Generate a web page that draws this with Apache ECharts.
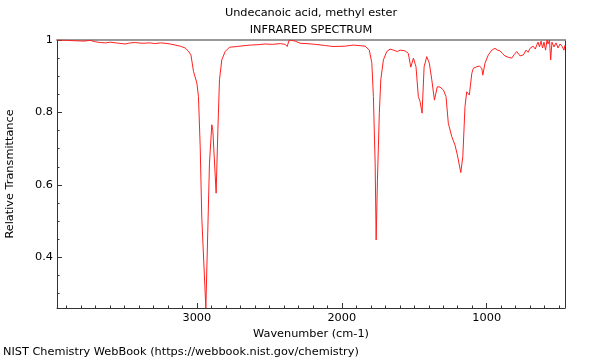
<!DOCTYPE html>
<html>
<head>
<meta charset="utf-8">
<script src="https://cdn.jsdelivr.net/npm/echarts@6/dist/echarts.min.js"></script>
<style>html,body{margin:0;padding:0;background:#fff}#c{width:600px;height:360px}</style>
</head>
<body>
<div id="c"></div>
<script>
const titleLines = ['Undecanoic acid, methyl ester', 'INFRARED SPECTRUM'];
const xName = 'Wavenumber (cm-1)';
const yName = 'Relative Transmittance';
const footer = 'NIST Chemistry WebBook (https://webbook.nist.gov/chemistry)';

const wavenumbers = [3963,3900,3839,3780,3736,3700,3667,3630,3598,3540,3495,3460,3426,3380,3322,3290,3253,3220,3184,3150,3115,3081,3060,3041,3023,3000,2989,2977,2966,2954,2938,2913,2897,2890,2867,2855,2844,2828,2805,2775,2724,2680,2632,2580,2529,2480,2425,2390,2377,2363,2322,2288,2240,2184,2120,2060,1977,1920,1839,1810,1793,1782,1770,1763,1754,1741,1731,1713,1690,1667,1644,1617,1598,1563,1541,1524,1506,1488,1472,1460,1446,1432,1414,1396,1379,1361,1341,1322,1299,1281,1265,1241,1230,1219,1203,1196,1179,1165,1150,1138,1120,1103,1092,1070,1051,1034,1027,1012,989,965,943,925,908,890,874,850,827,810,793,770,747,729,715,701,680,665,655,646,636,625,615,605,594,584,577,567,559,550,536,522,508,494,481,467,460];
const transmittance = [1.0,0.999,0.998,0.997,0.999,0.995,0.993,0.992,0.994,0.991,0.989,0.992,0.993,0.991,0.992,0.990,0.992,0.991,0.989,0.986,0.983,0.978,0.970,0.959,0.913,0.881,0.844,0.706,0.509,0.506,0.26,0.660,0.766,0.752,0.577,0.752,0.890,0.945,0.968,0.980,0.982,0.984,0.986,0.987,0.989,0.988,0.990,0.988,0.982,1.0,0.997,0.991,0.990,0.988,0.985,0.982,0.983,0.986,0.983,0.972,0.937,0.844,0.661,0.448,0.614,0.799,0.890,0.945,0.968,0.975,0.972,0.968,0.972,0.970,0.963,0.925,0.950,0.926,0.844,0.830,0.798,0.926,0.954,0.936,0.890,0.834,0.871,0.870,0.862,0.844,0.770,0.733,0.729,0.710,0.683,0.678,0.634,0.678,0.816,0.857,0.848,0.908,0.922,0.926,0.928,0.922,0.903,0.936,0.959,0.972,0.977,0.972,0.970,0.962,0.956,0.952,0.950,0.960,0.968,0.956,0.959,0.972,0.966,0.977,0.983,0.975,0.986,0.994,0.981,0.997,0.978,0.994,0.972,1.0,0.989,1.0,0.945,0.994,0.981,0.992,0.978,0.989,0.983,0.972,0.986];

const xMin = 460, xMax = 3965;
const yMin = 0.26, yMax = 1;
const xMajorTicks = [3000, 2000, 1000];
const xMinorTicks = [3900,3800,3700,3600,3500,3400,3300,3200,3100,2900,2800,2700,2600,2500,2400,2300,2200,2100,1900,1800,1700,1600,1500,1400,1300,1200,1100,900,800,700,600,500];
const yMajorTicks = [1, 0.8, 0.6, 0.4];
const yMinorTicks = [0.95,0.9,0.85,0.75,0.7,0.65,0.55,0.5,0.45,0.35,0.3];

const points = wavenumbers.map((w, i) => [w, transmittance[i]]);
const FONT = 'DejaVu Sans';
const FS = 11.3;
const black = '#000';

const chart = echarts.init(document.getElementById('c'), null, {renderer: 'canvas'});
const baseX = {type: 'value', min: xMin, max: xMax, inverse: true, splitLine: {show: false}};
const baseY = {type: 'value', min: yMin, max: yMax, splitLine: {show: false}};
chart.setOption({
  animation: false,
  backgroundColor: '#fff',
  textStyle: {fontFamily: FONT},
  grid: {left: 57, right: 35, top: 40, bottom: 52, containLabel: false, outerBoundsMode: 'none'},
  xAxis: [
    Object.assign({}, baseX, {
      position: 'bottom',
      axisLine: {show: true, lineStyle: {color: '#333', width: 1}},
      axisTick: {show: true, inside: true, length: 5, customValues: xMajorTicks, lineStyle: {color: '#333'}},
      axisLabel: {show: true, customValues: xMajorTicks, color: black, fontSize: FS, fontFamily: FONT, margin: 5,
        formatter: v => String(v)},
      name: xName, nameLocation: 'middle', nameGap: 19,
      nameTextStyle: {color: black, fontSize: FS, fontFamily: FONT}
    }),
    Object.assign({}, baseX, {
      position: 'bottom',
      axisLine: {show: false},
      axisTick: {show: true, inside: true, length: 2.5, customValues: xMinorTicks, lineStyle: {color: '#333'}},
      axisLabel: {show: false}
    }),
    Object.assign({}, baseX, {
      position: 'top',
      axisLine: {show: true, lineStyle: {color: '#999', width: 2}},
      axisTick: {show: false},
      axisLabel: {show: false}
    })
  ],
  yAxis: [
    Object.assign({}, baseY, {
      position: 'left',
      axisLine: {show: true, lineStyle: {color: '#333', width: 1}},
      axisTick: {show: true, inside: true, length: 5, customValues: yMajorTicks, lineStyle: {color: '#333'}},
      axisLabel: {show: true, customValues: yMajorTicks, color: black, fontSize: FS, fontFamily: FONT, margin: 4,
        formatter: v => String(Math.round(v * 100) / 100)},
      name: yName, nameLocation: 'middle', nameGap: 41, nameRotate: 90,
      nameTextStyle: {color: black, fontSize: FS, fontFamily: FONT}
    }),
    Object.assign({}, baseY, {
      position: 'left',
      axisLine: {show: false},
      axisTick: {show: true, inside: true, length: 2.5, customValues: yMinorTicks, lineStyle: {color: '#333'}},
      axisLabel: {show: false}
    }),
    Object.assign({}, baseY, {
      position: 'right',
      axisLine: {show: true, lineStyle: {color: '#333', width: 1}},
      axisTick: {show: false},
      axisLabel: {show: false}
    })
  ],
  graphic: [
    {type: 'text', x: 311, y: 13, style: {text: titleLines[0], fill: black, font: FS + 'px "DejaVu Sans"', textAlign: 'center', textVerticalAlign: 'middle'}},
    {type: 'text', x: 311, y: 30, style: {text: titleLines[1], fill: black, font: FS + 'px "DejaVu Sans"', textAlign: 'center', textVerticalAlign: 'middle'}},
    {type: 'text', x: 3, y: 352, style: {text: footer, fill: black, font: FS + 'px "DejaVu Sans"', textAlign: 'left', textVerticalAlign: 'middle'}}
  ],
  series: [{
    type: 'line',
    data: points,
    xAxisIndex: 0,
    yAxisIndex: 0,
    showSymbol: false,
    symbol: 'none',
    clip: true,
    lineStyle: {color: '#ff2020', width: 1},
    emphasis: {disabled: true}
  }]
});
</script>
</body>
</html>
